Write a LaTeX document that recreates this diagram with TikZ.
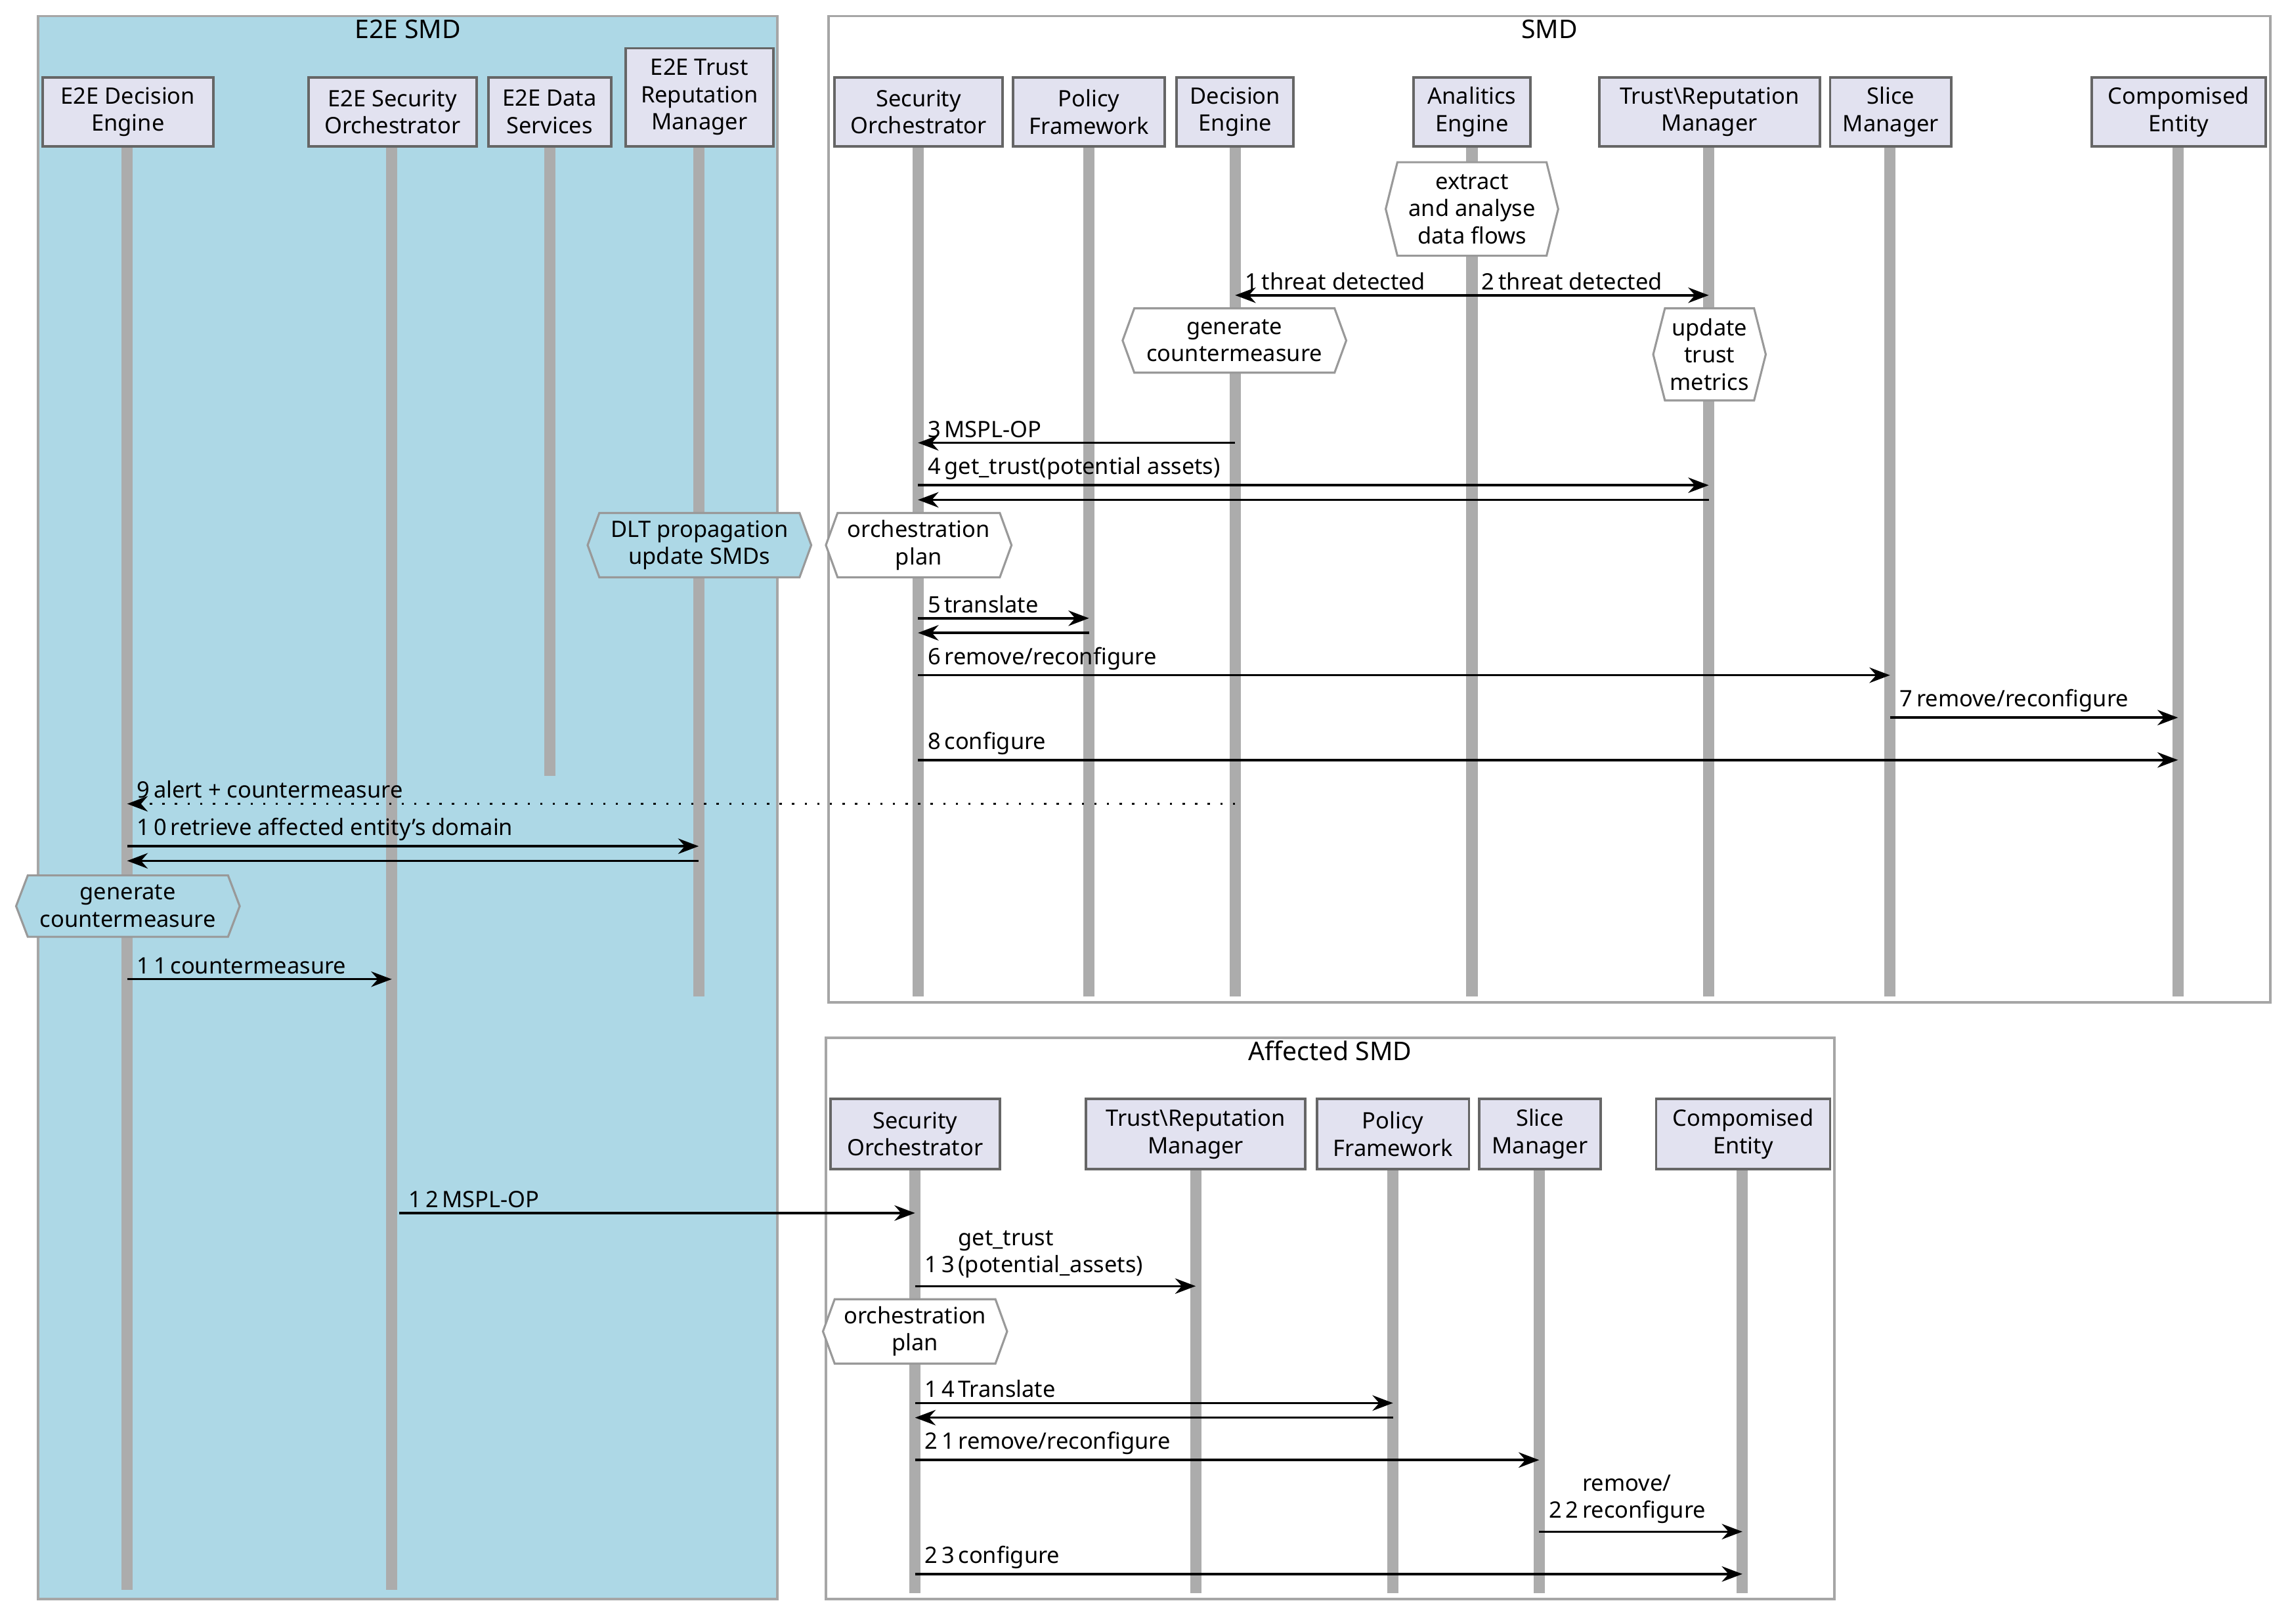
\documentclass[tikz,border=0pt]{standalone}
\usepackage{fontspec}
\setmainfont{Noto Sans}
\usetikzlibrary{arrows.meta}
\definecolor{pfill}{HTML}{E2E2F0}
\definecolor{lb}{HTML}{ADD8E6}
\tikzset{
 pbox/.style={draw=gray!80!black,fill=pfill,line width=0.5pt},
 grp/.style={draw=gray!70,line width=0.5pt},
 life/.style={draw=gray!65,line width=2.2pt},
 hexa/.style={draw=gray!80,fill=white,line width=0.4pt},
 msg/.style={-{Stealth[length=4pt,width=3pt]},line width=0.45pt},
 lbl/.style={anchor=south west,inner sep=0pt},
 ttl/.style={font=\fontsize{5}{6}\selectfont\bfseries}
}
\newcommand\pbx[5]{\draw[pbox] (#1,#3) rectangle (#2,#4); \node[align=center,inner sep=0pt] at ({(#1+#2)/2},{(#3+#4)/2}) {#5};}
\newcommand\hex[6]{\draw[hexa,#6] (#1,{(#3+#4)/2})--(#1+8,#3)--(#2-8,#3)--(#2,{(#3+#4)/2})--(#2-8,#4)--(#1+8,#4)--cycle;
 \node[align=center,inner sep=0pt] at ({(#1+#2)/2},{(#3+#4)/2}) {#5};}
\newcommand\mymsg[5]{\coordinate (s) at (#1,#3); \coordinate (t) at (#2,#3);
 \draw[msg] (s) -- (t); \node[lbl] at ({min(#1,#2)+6},#3-3) {\textbf{#4}\,#5};}
\newcommand\ret[3]{\coordinate (s) at (#1,#3); \coordinate (t) at (#2,#3); \draw[msg] (s)--(t);}
\begin{document}
\begin{tikzpicture}[x=0.01cm,y=-0.01cm,font=\fontsize{4.4}{5.3}\selectfont]
\useasboundingbox (0,0) rectangle (1568,1111);
% groups
\draw[grp,fill=lb] (26,11) rectangle (532,1094);
\node[ttl] at (279,20) {E2E SMD};
\draw[grp] (567,11) rectangle (1553,686);
\node[ttl] at (1060,20) {SMD};
\draw[grp] (565,710) rectangle (1255,1094);
\node[ttl] at (910,719) {Affected SMD};
% lifelines
\foreach \x/\a/\b in {87/100/1088,268/100/1088,376/100/531,478/100/682,
 628/100/682,745/100/682,845/100/682,1007/100/682,1169/100/682,1293/100/682,1490/100/682,
 626/800/1090,818/800/1090,953/800/1090,1053/800/1090,1192/800/1090}
 \draw[life] (\x,\a) -- (\x,\b);
% participants
\pbx{29}{146}{53}{100}{E2E Decision\\Engine}
\pbx{211}{326}{53}{100}{E2E Security\\Orchestrator}
\pbx{334}{418}{53}{100}{E2E Data\\Services}
\pbx{428}{529}{33}{100}{E2E Trust\\Reputation\\Manager}
\pbx{571}{686}{53}{100}{Security\\Orchestrator}
\pbx{693}{797}{53}{100}{Policy\\Framework}
\pbx{805}{885}{53}{100}{Decision\\Engine}
\pbx{967}{1047}{53}{100}{Analitics\\Engine}
\pbx{1094}{1245}{53}{100}{Trust\textbackslash Reputation\\Manager}
\pbx{1252}{1335}{53}{100}{Slice\\Manager}
\pbx{1431}{1550}{53}{100}{Compomised\\Entity}
\pbx{568}{684}{752}{800}{Security\\Orchestrator}
\pbx{743}{893}{752}{800}{Trust\textbackslash Reputation\\Manager}
\pbx{901}{1005}{752}{800}{Policy\\Framework}
\pbx{1012}{1095}{752}{800}{Slice\\Manager}
\pbx{1133}{1252}{752}{800}{Compomised\\Entity}
% notes
\hex{948}{1066}{111}{175}{extract\\and analyse\\data flows}{}
\hex{768}{921}{211}{255}{generate\\countermeasure}{}
\hex{1131}{1208}{211}{274}{update\\trust\\metrics}{}
\hex{565}{692}{351}{395}{orchestration\\plan}{}
\hex{402}{555}{351}{395}{DLT propagation\\update SMDs}{fill=lb}
\hex{11}{164}{599}{641}{generate\\countermeasure}{fill=lb}
\hex{563}{689}{889}{933}{orchestration\\plan}{}
% messages
\mymsg{1007}{845}{202}{1}{threat detected}
\mymsg{1007}{1169}{202}{2}{threat detected}
\mymsg{845}{628}{303}{3}{MSPL-OP}
\mymsg{628}{1169}{332}{4}{get\_trust(potential assets)}
\ret{1169}{628}{342}
\mymsg{628}{745}{423}{5}{translate}
\ret{745}{628}{433}
\mymsg{628}{1293}{462}{6}{remove/reconfigure}
\mymsg{1293}{1490}{491}{7}{remove/reconfigure}
\mymsg{628}{1490}{520}{8}{configure}
\coordinate (s) at (845,550); \coordinate (t) at (87,550);
\draw[msg,dotted] (s) -- (t);
\node[lbl] at (93,547) {\textbf{9}\,alert + countermeasure};
\mymsg{87}{478}{579}{1\,0}{retrieve affected entity's domain}
\ret{478}{87}{589}
\mymsg{87}{268}{670}{1\,1}{countermeasure}
\mymsg{273}{626}{830}{1\,2}{MSPL-OP}
\coordinate (s) at (626,880); \coordinate (t) at (818,880); \draw[msg] (s)--(t);
\node[lbl,align=left] at (632,877) {\textbf{1\,3}\,\begin{tabular}[b]{@{}l@{}}get\_trust\\(potential\_assets)\end{tabular}};
\mymsg{626}{953}{960}{1\,4}{Translate}
\ret{953}{626}{970}
\mymsg{626}{1053}{999}{2\,1}{remove/reconfigure}
\coordinate (s) at (1053,1048); \coordinate (t) at (1192,1048); \draw[msg] (s)--(t);
\node[lbl] at (1059,1045) {\textbf{2\,2}\,\begin{tabular}[b]{@{}l@{}}remove/\\reconfigure\end{tabular}};
\mymsg{626}{1192}{1077}{2\,3}{configure}
\end{tikzpicture}
\end{document}
